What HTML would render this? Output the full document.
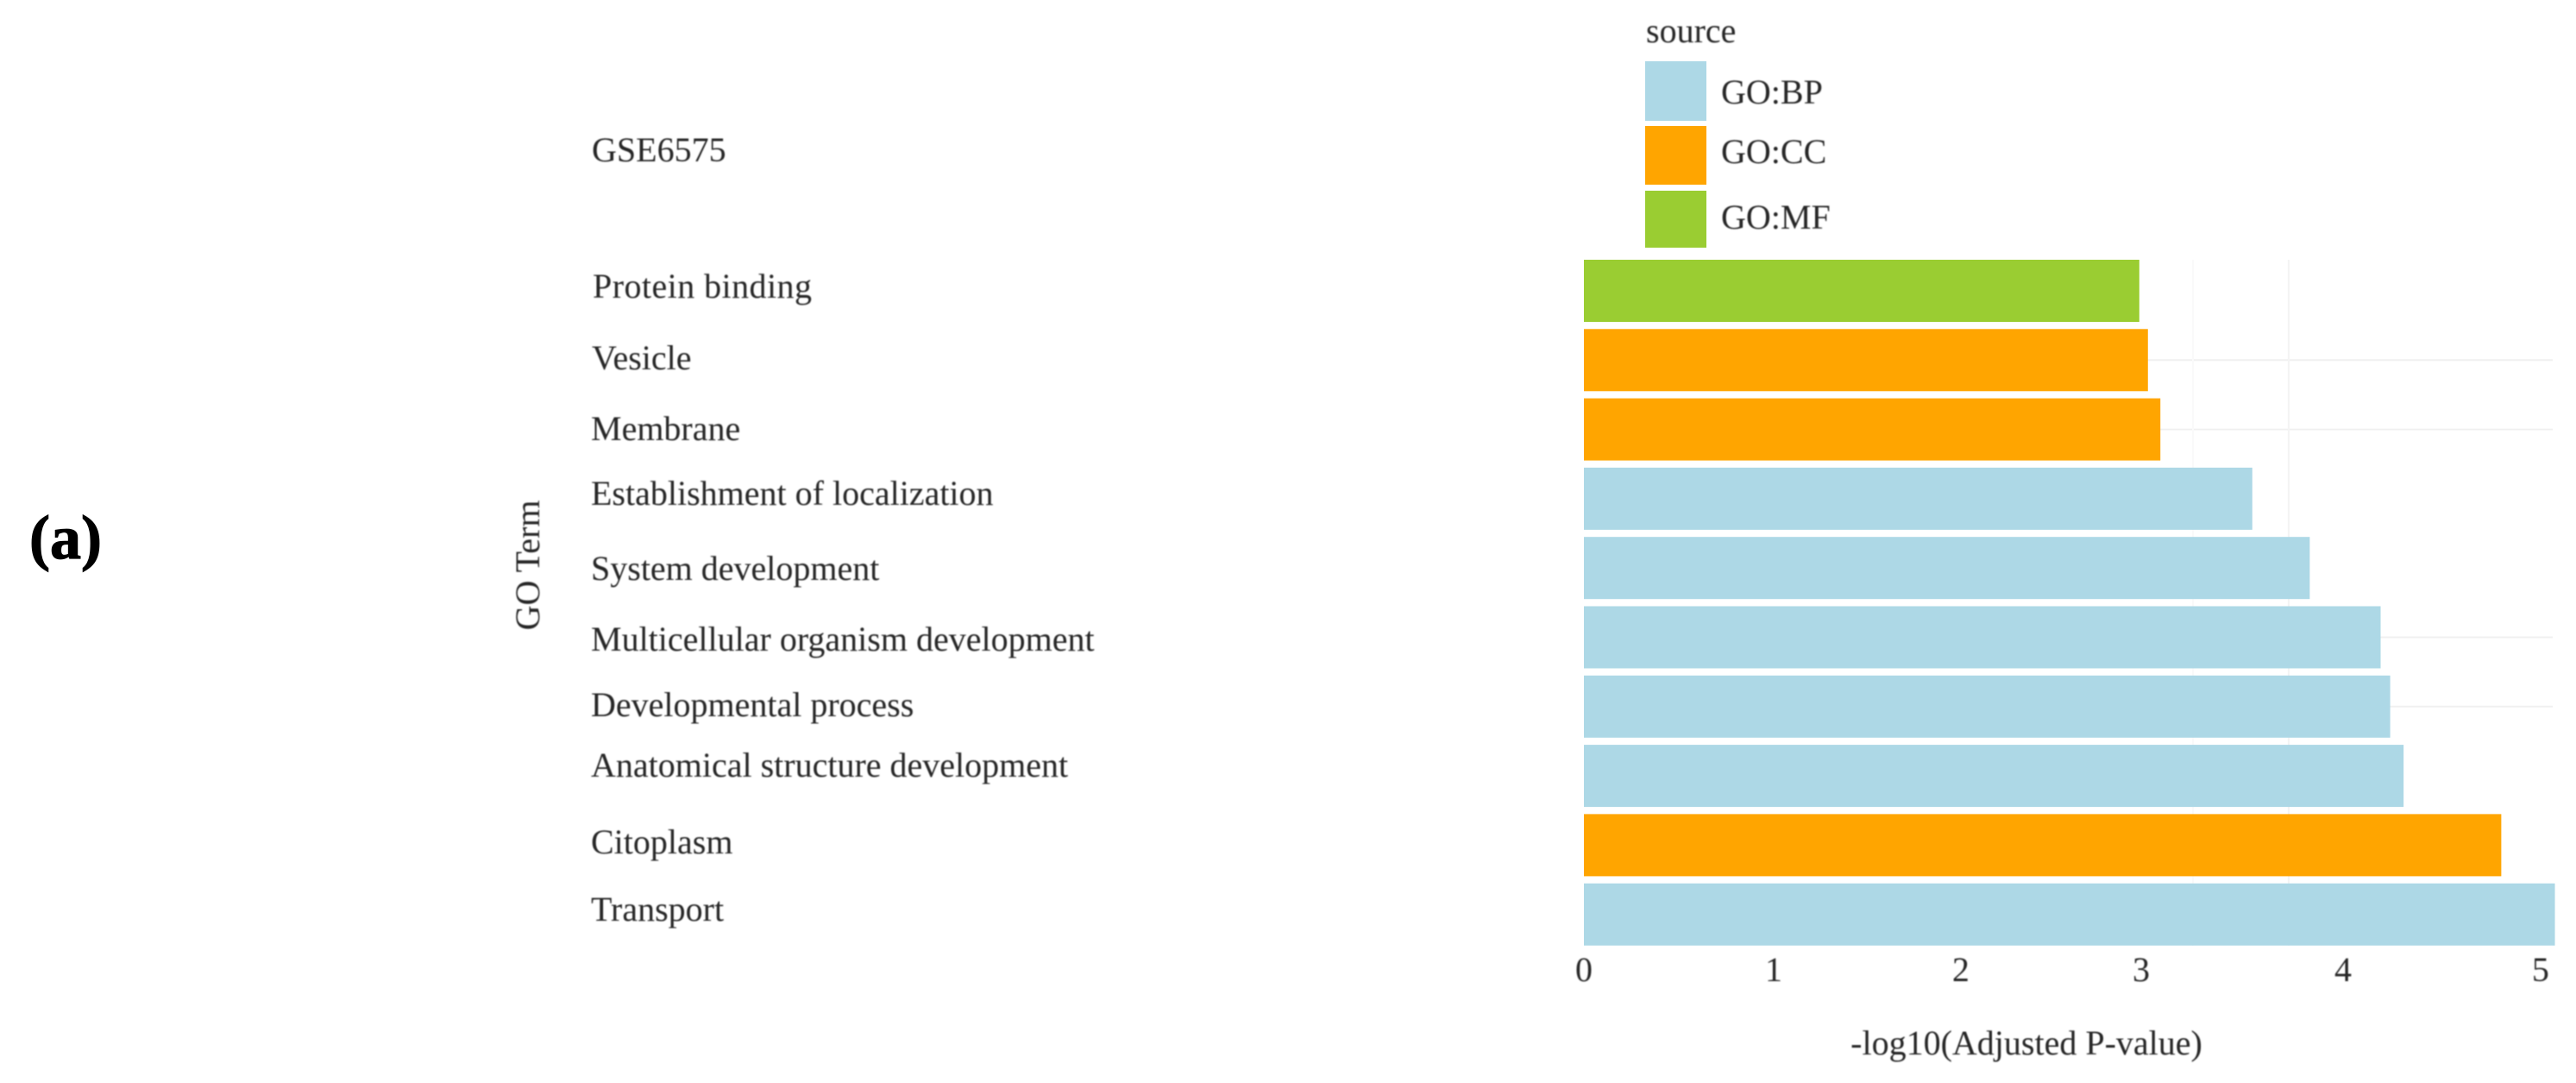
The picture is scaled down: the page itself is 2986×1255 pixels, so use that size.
<!DOCTYPE html>
<html lang="en">
<head>
<meta charset="utf-8">
<title>GSE6575 GO Term enrichment</title>
<style>
  html, body { margin: 0; padding: 0; background: #fff; width: 2986px; height: 1255px; overflow: hidden; }
  svg { display: block; }
  .t { font-family: "Liberation Serif", serif; font-size: 40px; fill: #262626; filter: url(#soft); }
  .panel { font-family: "Liberation Serif", serif; font-weight: 700; font-size: 72px; fill: #000; stroke: #000; stroke-width: 1.2px; }
</style>
</head>
<body>
<svg id="chart" xmlns="http://www.w3.org/2000/svg" width="2986" height="1255" viewBox="0 0 2986 1255">
  <defs>
    <filter id="soft" x="-5%" y="-20%" width="110%" height="140%"><feGaussianBlur stdDeviation="0.7"/></filter>
  </defs>
  <rect width="2986" height="1255" fill="#ffffff"/>

  <text class="panel" x="34" y="647">(a)</text>
  <text class="t" x="686" y="187">GSE6575</text>
  <text class="t" transform="translate(625 655) rotate(-90)" text-anchor="middle">GO Term</text>

  <g id="grid"></g>
  <g id="bars"></g>

  <g>
    <text class="t" x="687" y="345" textLength="254">Protein binding</text>
    <text class="t" x="686" y="428">Vesicle</text>
    <text class="t" x="685" y="510">Membrane</text>
    <text class="t" x="685" y="585">Establishment of localization</text>
    <text class="t" x="685" y="672">System development</text>
    <text class="t" x="685" y="754">Multicellular organism development</text>
    <text class="t" x="685" y="830">Developmental process</text>
    <text class="t" x="685" y="900">Anatomical structure development</text>
    <text class="t" x="685" y="989">Citoplasm</text>
    <text class="t" x="685" y="1067">Transport</text>
  </g>

  <g id="xticks"></g>
  <text class="t" x="2349" y="1222" text-anchor="middle">-log10(Adjusted P-value)</text>

  <g>
    <text class="t" x="1908" y="49">source</text>
    <rect x="1907" y="71" width="71" height="69" fill="#ADD8E6"/>
    <rect x="1907" y="146" width="71" height="68" fill="#FFA500"/>
    <rect x="1907" y="221" width="71" height="66" fill="#9ACD32"/>
    <text class="t" x="1995" y="120">GO:BP</text>
    <text class="t" x="1995" y="189">GO:CC</text>
    <text class="t" x="1995" y="265">GO:MF</text>
  </g>
</svg>

<script>
const categories = ["Protein binding", "Vesicle", "Membrane", "Establishment of localization", "System development", "Multicellular organism development", "Developmental process", "Anatomical structure development", "Citoplasm", "Transport"];
const sources = ["GO:MF", "GO:CC", "GO:CC", "GO:BP", "GO:BP", "GO:BP", "GO:BP", "GO:BP", "GO:CC", "GO:BP"];
const values = [2.90, 2.945, 3.01, 3.49, 3.79, 4.16, 4.21, 4.28, 4.79, 5.07];
const tickLabels = ["0", "1", "2", "3", "4", "5"];
const tickValues = [0, 0.991, 1.968, 2.91, 3.964, 4.995];
const gridRows = [1, 2, 5, 6];
const gridValues = [3.18, 3.68];

const sourceColor = { "GO:BP": "#ADD8E6", "GO:CC": "#FFA500", "GO:MF": "#9ACD32" };
const NS = "http://www.w3.org/2000/svg";
const x = v => 1836 + 222 * v;
const bandTop = i => 301 + 80.3 * i;
const bandHeight = 72;
const gridG = document.getElementById("grid");
const barsG = document.getElementById("bars");
const ticksG = document.getElementById("xticks");

gridRows.forEach(r => {
  const l = document.createElementNS(NS, "line");
  
  
  const y = bandTop(r) + bandHeight / 2;
  l.setAttribute("x1", x(0));
  l.setAttribute("x2", 2959);
  l.setAttribute("y1", y);
  l.setAttribute("y2", y);
  l.setAttribute("stroke", "#f0f0f0");
  l.setAttribute("stroke-width", "2");
  gridG.appendChild(l);
});

gridValues.forEach((v, i) => {
  const l = document.createElementNS(NS, "line");
  
  
  l.setAttribute("x1", x(v));
  l.setAttribute("x2", x(v));
  l.setAttribute("y1", bandTop(0));
  l.setAttribute("y2", bandTop(9) + bandHeight);
  l.setAttribute("stroke", i === 0 ? "#fafafa" : "#f4f4f4");
  l.setAttribute("stroke-width", "2");
  gridG.appendChild(l);
});

categories.forEach((c, i) => {
  const r = document.createElementNS(NS, "rect");
  
  
  r.setAttribute("x", x(0));
  r.setAttribute("y", bandTop(i));
  r.setAttribute("width", x(values[i]) - x(0));
  r.setAttribute("height", bandHeight);
  r.setAttribute("fill", sourceColor[sources[i]]);
  barsG.appendChild(r);
});

tickLabels.forEach((t, i) => {
  const e = document.createElementNS(NS, "text");
  
  
  e.setAttribute("class", "t");
  e.setAttribute("x", x(tickValues[i]));
  e.setAttribute("y", 1137);
  e.setAttribute("text-anchor", "middle");
  e.textContent = t;
  ticksG.appendChild(e);
});
</script>
</body>
</html>
